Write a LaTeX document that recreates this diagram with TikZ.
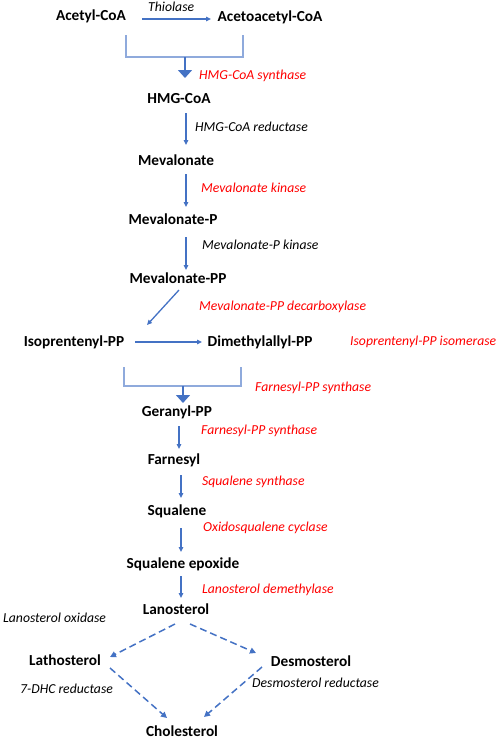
\documentclass[tikz,border=0pt]{standalone}
\usepackage{fontspec}
\setmainfont{Carlito}
\usetikzlibrary{arrows.meta}
\definecolor{arrblue}{HTML}{4472C4}
\definecolor{brblue}{HTML}{8FAADC}
\definecolor{enzred}{HTML}{FF0000}
\tikzset{
  cpd/.style={inner sep=0pt, font=\fontsize{15.3}{18}\selectfont\bfseries, text=black},
  enz/.style={inner sep=0pt, anchor=west, font=\fontsize{13.7}{16}\selectfont\itshape, text=black},
  enzr/.style={enz, text=enzred},
  arr/.style={draw=arrblue, line width=1.3pt, -{Triangle[length=5pt,width=4.5pt]}},
  darr/.style={draw=arrblue, line width=1.5pt, dash pattern=on 7pt off 4pt, -{Triangle[length=6pt,width=6pt]}},
  brk/.style={draw=brblue, line width=1.2pt},
  barr/.style={draw=arrblue, line width=1.5pt, -{Triangle[length=8pt,width=14pt]}}
}
\begin{document}
\begin{tikzpicture}[x=1pt,y=-1pt]
\useasboundingbox (0,0) rectangle (498,739);
% compounds
\node[cpd] (acetyl) at (91,16) {Acetyl-CoA};
\node[cpd] (acetoacetyl) at (270,17) {Acetoacetyl-CoA};
\node[cpd] (hmg) at (179,99) {HMG-CoA};
\node[cpd] (mev) at (176,160) {Mevalonate};
\node[cpd] (mevp) at (173,219) {Mevalonate-P};
\node[cpd] (mevpp) at (178,278) {Mevalonate-PP};
\node[cpd] (ipp) at (74,342) {Isoprentenyl-PP};
\node[cpd] (dmapp) at (260,342) {Dimethylallyl-PP};
\node[cpd] (gpp) at (177,412) {Geranyl-PP};
\node[cpd] (farn) at (174,460) {Farnesyl};
\node[cpd] (squal) at (177,511) {Squalene};
\node[cpd] (sqep) at (183,564) {Squalene epoxide};
\node[cpd] (lano) at (176,609) {Lanosterol};
\node[cpd] (latho) at (65,660) {Lathosterol};
\node[cpd] (desmo) at (311,661) {Desmosterol};
\node[cpd] (chol) at (182,731) {Cholesterol};
% enzymes
\node[enz] (e1) at (148,7) {Thiolase};
\node[enzr] (e2) at (199,76) {HMG-CoA synthase};
\node[enz] (e3) at (195,127) {HMG-CoA reductase};
\node[enzr] (e4) at (201,188) {Mevalonate kinase};
\node[enz] (e5) at (202,245) {Mevalonate-P kinase};
\node[enzr] (e6) at (199,307) {Mevalonate-PP decarboxylase};
\node[enzr] (e7) at (350,342) {Isoprentenyl-PP isomerase};
\node[enzr] (e8) at (255,388) {Farnesyl-PP synthase};
\node[enzr] (e9) at (201,431) {Farnesyl-PP synthase};
\node[enzr] (e10) at (202,482) {Squalene synthase};
\node[enzr] (e11) at (203,528) {Oxidosqualene cyclase};
\node[enzr] (e12) at (202,590) {Lanosterol demethylase};
\node[enz] (e13) at (3,618) {Lanosterol oxidase};
\node[enz] (e14) at (20,689) {7-DHC reductase};
\node[enz] (e15) at (252,683) {Desmosterol reductase};
% column coordinates
\coordinate (c1) at (186,0);
\coordinate (c2) at (179,0);
\coordinate (c3) at (181,0);
\coordinate (j1) at (185,57);
\coordinate (j2) at (183,386);
% top bracket
\draw[brk] ([shift={(35,19)}]acetyl.center) |- (j1) -| ([shift={(-27,18)}]acetoacetyl.center);
\draw[barr] (j1) -- ([shift={(6,-21)}]hmg.center);
% thiolase
\draw[arr] ([shift={(51,3)}]acetyl.center) -- ([shift={(-59,2)}]acetoacetyl.center);
% vertical arrows
\draw[arr, shorten <=14pt, shorten >=15pt] (hmg.center -| c1) -- (mev.center -| c1);
\draw[arr, shorten <=14pt, shorten >=12pt] (mev.center -| c1) -- (mevp.center -| c1);
\draw[arr, shorten <=18pt, shorten >=8pt] (mevp.center -| c1) -- (mevpp.center -| c1);
\draw[arr] ([shift={(1,12)}]mevpp.center) -- ([shift={(73,-17)}]ipp.center);
\draw[arr] ([shift={(61,0)}]ipp.center) -- ([shift={(-58,0)}]dmapp.center);
% bottom bracket
\draw[brk] ([shift={(50,25)}]ipp.center) |- (j2) -| ([shift={(-19,25)}]dmapp.center);
\draw[barr] (j2) -- ([shift={(6,-9)}]gpp.center);
\draw[arr, shorten <=14pt, shorten >=11pt] (gpp.center -| c2) -- (farn.center -| c2);
\draw[arr, shorten <=15pt, shorten >=13pt] (farn.center -| c3) -- (squal.center -| c3);
\draw[arr, shorten <=17pt, shorten >=12pt] (squal.center -| c3) -- (sqep.center -| c3);
\draw[arr, shorten <=12pt, shorten >=11pt] (sqep.center -| c3) -- (lano.center -| c3);
% dashed
\draw[darr] ([shift={(-1,15)}]lano.center) -- ([shift={(45,-3)}]latho.center);
\draw[darr] ([shift={(14,15)}]lano.center) -- ([shift={(-55,-8)}]desmo.center);
\draw[darr] ([shift={(45,8)}]latho.center) -- ([shift={(-15,-13)}]chol.center);
\draw[darr] ([shift={(-49,6)}]desmo.center) -- ([shift={(22,-14)}]chol.center);
\end{tikzpicture}
\end{document}
